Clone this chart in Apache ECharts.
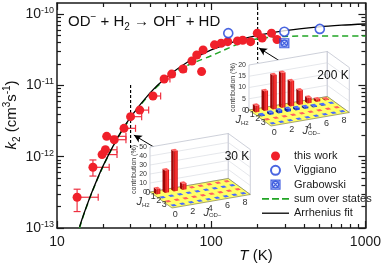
<!DOCTYPE html>
<html><head><meta charset="utf-8">
<script src="https://cdn.jsdelivr.net/npm/echarts@6/dist/echarts.min.js"></script>
<style>html,body{margin:0;padding:0;background:#fff}#c{width:384px;height:266px}</style>
</head><body><div id="c"></div><script>
const FONT = '"Liberation Sans", Arial, Helvetica, sans-serif';

// ---- main panel data (T in K, k2 in cm^3 s^-1) ----
const thisWorkT   = [13.5, 17.1, 19.6, 20.6, 21.0, 23.5, 27.2, 30.0, 34.4, 41.9, 49.5, 55.4, 65.6, 75, 80.6, 86.6, 88.6, 105, 116, 128, 148, 160, 180, 199, 214, 246, 267];
const thisWorkK   = [2.7e-13, 7.1e-13, 1.07e-12, 1.25e-12, 1.93e-12, 1.73e-12, 2.5e-12, 3.64e-12, 4.5e-12, 7.1e-12, 1.23e-11, 1.44e-11, 1.7e-11, 2.2e-11, 2.67e-11, 1.56e-11, 3.14e-11, 3.7e-11, 3.9e-11, 4.1e-11, 4.2e-11, 4.3e-11, 4.1e-11, 5.4e-11, 4.6e-11, 5.4e-11, 4.4e-11];
const thisWorkTHi = [18.5, 21.8, 24.5, 24.5, 28, 28, 32.3, 35.4, 39.3, 47, 54, 58, 69, null, null, null, null, null, null, null, null, null, null, null, null, null, null];
const thisWorkKLo = [1.7e-13, 5.35e-13, null, null, null, null, null, null, null, null, null, null, null, null, null, null, null, null, null, null, null, null, null, null, null, null, null];
const thisWorkKHi = [3.5e-13, 9.0e-13, null, null, null, null, null, null, null, null, null, null, null, null, null, null, null, null, null, null, null, null, null, null, null, null, null];

const viggianoT = [129, 298, 506];
const viggianoK = [5.4e-11, 5.66e-11, 6.2e-11];
const grabowskiT = [298];
const grabowskiK = [3.9e-11];

const sumT = [14, 15, 17, 20, 25, 30, 40, 50, 60, 70, 80, 100, 120, 150, 200, 300, 500, 700, 1000];
const sumK = [1.0e-13, 1.6e-13, 3.3e-13, 7.5e-13, 1.9e-12, 3.5e-12, 7.6e-12, 1.2e-11, 1.6e-11, 1.9e-11, 2.15e-11, 2.6e-11, 3.1e-11, 3.8e-11, 4.5e-11, 4.85e-11, 4.93e-11, 4.93e-11, 4.93e-11];

const fitT = [14, 15, 17, 20, 25, 30, 40, 50, 70, 100, 150, 200, 300, 500, 700, 1000];
const fitK = [1.04e-13, 1.62e-13, 3.35e-13, 7.62e-13, 1.93e-12, 3.59e-12, 7.79e-12, 1.24e-11, 2.11e-11, 3.14e-11, 4.29e-11, 5.01e-11, 5.85e-11, 6.62e-11, 6.98e-11, 7.26e-11];

const markerT = [30, 200];
const markerKTop = [1.01e-11, 1.26e-10];
const markerKBottom = [1.32e-12, 2.1e-11];
const arrowFromT = [43.6, 285], arrowFromK = [1.32e-12, 2.13e-11];
const arrowToT = [31.5, 204], arrowToK = [2.01e-12, 3.35e-11];

const xTickLabels = ['10', '100', '1000'];
const yTickExps = [-13, -12, -11, -10];

// ---- inset data: contribution (%) [J_H2][J_OD] ----
const jOD = [0, 1, 2, 3, 4, 5, 6, 7, 8];
const jH2 = [0, 1, 2, 3];
const contrib30K = [
  [5.8, 25, 44.7, 7, 0, 0, 0, 0, 0],
  [0, 0, 0, 0, 0, 0, 0, 0, 0],
  [0, 0, 0, 0, 0, 0, 0, 0, 0],
  [0, 0, 0, 0, 0, 0, 0, 0, 0]
];
const contrib200K = [
  [3, 8.8, 15.2, 15.6, 11.2, 6.4, 2.5, 1.1, 0.4],
  [0.5, 1, 1.3, 1.3, 1, 0.8, 0.5, 0.3, 0.2],
  [0, 0, 0, 0, 0, 0, 0, 0, 0],
  [0, 0, 0, 0, 0, 0, 0, 0, 0]
];
const rowColors = ['red', 'blue', 'red', 'blue'];
const z30Ticks = [0, 10, 20, 30, 40, 50];
const z200Ticks = [0, 5, 10, 15, 20];

// ---------------------------------------------------------------
const L10 = Math.log10;
const yMin = -13, yMax = L10(1.43e-10);
const xMinor = [], yMinor = [];
for (let n = 1; n <= 2; n++) for (let m = 2; m <= 9; m++) xMinor.push(L10(m * Math.pow(10, n)));
for (let n = -13; n <= -11; n++) for (let m = 2; m <= 9; m++) yMinor.push(L10(m * Math.pow(10, n)));

const pairs = (xs, ys) => xs.map((x, i) => [L10(x), L10(ys[i])]);
const errData = thisWorkT.map((t, i) => [L10(t), L10(thisWorkK[i]),
  thisWorkTHi[i] ? L10(thisWorkTHi[i]) : NaN,
  thisWorkKLo[i] ? L10(thisWorkKLo[i]) : NaN,
  thisWorkKHi[i] ? L10(thisWorkKHi[i]) : NaN]);

const RED = '#f0202a', BLUE = '#1c3fd8', AX = '#1a1a1a', GREEN = '#22a526';

const insets = [
  { L: [150, 192], ex: [8.7, -1.5], ey: [5.5, 4.0], zs: 0.9, zmax: 50, zticks: z30Ticks, values: contrib30K, label: '30 K', labelPos: [237, 157] },
  { L: [249, 110], ex: [8.7, -1.5], ey: [5.5, 4.0], zs: 2.25, zmax: 20, zticks: z200Ticks, values: contrib200K, label: '200 K', labelPos: [333, 76] }
];
const palette = {
  red:  { top: '#ff6060', left: '#9c0606', f0: '#c80c0c', f1: '#ff3a3a' },
  blue: { top: '#4a6cff', left: '#0c2090', f0: '#1530c0', f1: '#3050ff' }
};

function renderInset(params, api) {
  const cfg = insets[params.dataIndex];
  const P = (x, y, z) => api.coord([
    cfg.L[0] + (x + 0.5) * cfg.ex[0] + (y + 0.5) * cfg.ey[0],
    cfg.L[1] + (x + 0.5) * cfg.ex[1] + (y + 0.5) * cfg.ey[1] - z * cfg.zs]);
  const ch = [];
  const poly = (pts, fill, stroke, lw) => ch.push({ type: 'polygon', shape: { points: pts }, style: { fill: fill, stroke: stroke || null, lineWidth: lw || 0 } });
  const seg = (a, b, stroke, lw) => ch.push({ type: 'line', shape: { x1: a[0], y1: a[1], x2: b[0], y2: b[1] }, style: { stroke: stroke, lineWidth: lw } });
  const txt = (p, s, o) => ch.push(Object.assign({ type: 'text', x: p[0], y: p[1], style: Object.assign({ text: s, fontFamily: FONT, fontSize: 8, fill: '#333', align: 'center', verticalAlign: 'middle' }, o.style || {}) }, o.el || {}));
  const nx = jOD.length, ny = jH2.length, zm = cfg.zmax;
  const x0 = -0.5, x1 = nx - 0.5, y0 = -0.5, y1 = ny - 0.5;
  // walls
  poly([P(x0, y0, 0), P(x1, y0, 0), P(x1, y0, zm), P(x0, y0, zm)], '#ffffff', '#b8bcc8', 0.7);
  poly([P(x1, y0, 0), P(x1, y1, 0), P(x1, y1, zm), P(x1, y0, zm)], '#ffffff', '#b8bcc8', 0.7);
  cfg.zticks.forEach(z => { if (z > 0 && z < zm) { seg(P(x0, y0, z), P(x1, y0, z), '#d4d6de', 0.6); seg(P(x1, y0, z), P(x1, y1, z), '#d4d6de', 0.6); } });
  // floor
  poly([P(x0, y0, 0), P(x1, y0, 0), P(x1, y1, 0), P(x0, y1, 0)], '#ffff66', '#6b6b40', 0.6);
  // z tick labels
  cfg.zticks.forEach(z => { const p = P(x0, y0, z); txt([p[0] - 3, p[1]], String(z), { style: { align: 'right', fontSize: 7 } }); });
  const pc = P(x0, y0, zm / 2);
  txt([pc[0] - 16, pc[1]], 'contribution (%)', { style: { fontSize: 7 }, el: { rotation: Math.PI / 2 } });
  // axis tick labels
  jH2.forEach((j, k) => { const p = P(x0, k, 0); txt([p[0] - 5, p[1] - 1], String(j), { style: { fontSize: 9 } }); });
  jOD.forEach((j, k) => { if (j % 2 === 0) { const p = P(k, y1, 0); txt([p[0] - 1, p[1] + 7], String(j), { style: { fontSize: 9 } }); } });
  const ph = P(x0, 1.5, 0);
  const jr = { j: { fontSize: 11, fontStyle: 'italic', fill: '#333', fontFamily: FONT }, s: { fontSize: 6, fill: '#333', verticalAlign: 'bottom', fontFamily: FONT, padding: [6, 0, 0, 0] } };
  txt([ph[0] - 18, ph[1] + 2], '{j|J}{s|H2}', { style: { rich: jr } });
  const po = P(3, y1, 0);
  txt([po[0] + 10, po[1] + 10], '{j|J}{s|OD\u2212}', { style: { rich: jr } });
  // bars
  const cells = [];
  cfg.values.forEach((row, j) => row.forEach((v, i) => cells.push({ i: i, j: j, v: v, c: palette[rowColors[j]] })));
  cells.sort((a, b) => (a.i * cfg.ex[1] + a.j * cfg.ey[1]) - (b.i * cfg.ex[1] + b.j * cfg.ey[1]));
  const w = 0.23;
  cells.forEach(c => {
    const a0 = P(c.i - w, c.j - w, 0), c0 = P(c.i + w, c.j + w, 0), d0 = P(c.i - w, c.j + w, 0);
    const a1 = P(c.i - w, c.j - w, c.v), b1 = P(c.i + w, c.j - w, c.v), c1 = P(c.i + w, c.j + w, c.v), d1 = P(c.i - w, c.j + w, c.v);
    if (c.v > 0.2) {
      poly([a0, d0, d1, a1], c.c.left);
      poly([d0, c0, c1, d1], new echarts.graphic.LinearGradient(0, 0, 1, 0, [{ offset: 0, color: c.c.f0 }, { offset: 0.6, color: c.c.f1 }, { offset: 1, color: c.c.f0 }]));
    }
    poly([a1, b1, c1, d1], c.c.top);
  });
  txt(api.coord(cfg.labelPos), cfg.label, { style: { fontSize: 12, fill: '#111' } });
  return { type: 'group', children: ch };
}

function renderErr(params, api) {
  const x = api.value(0), y = api.value(1), xh = api.value(2), yl = api.value(3), yh = api.value(4);
  const p = api.coord([x, y]);
  const ch = [];
  const st = { stroke: '#ee3040', lineWidth: 1.2 };
  if (!isNaN(xh)) {
    const q = api.coord([xh, y]);
    ch.push({ type: 'line', shape: { x1: p[0], y1: p[1], x2: q[0], y2: q[1] }, style: st });
    ch.push({ type: 'line', shape: { x1: q[0], y1: q[1] - 3.5, x2: q[0], y2: q[1] + 3.5 }, style: st });
  }
  if (!isNaN(yl)) {
    const a = api.coord([x, yl]), b = api.coord([x, yh]);
    ch.push({ type: 'line', shape: { x1: a[0], y1: a[1], x2: b[0], y2: b[1] }, style: st });
    ch.push({ type: 'line', shape: { x1: a[0] - 3.5, y1: a[1], x2: a[0] + 3.5, y2: a[1] }, style: st });
    ch.push({ type: 'line', shape: { x1: b[0] - 3.5, y1: b[1], x2: b[0] + 3.5, y2: b[1] }, style: st });
  }
  return { type: 'group', children: ch };
}

const axLine = { show: true, onZero: false, lineStyle: { color: AX, width: 1.5 } };
const tickMaj = (len) => ({ show: true, inside: true, length: len, lineStyle: { color: AX, width: 1.2 } });
const xBase = { type: 'value', gridIndex: 0, min: 1, max: 3, interval: 1, splitLine: { show: false } };
const yBase = { type: 'value', gridIndex: 0, min: yMin, max: yMax, interval: 1, splitLine: { show: false } };

const GRAB_ICON = 'path://M0,0H10V10H0Z M1.5,1.5L8.5,8.5 M8.5,1.5L1.5,8.5 M8.5,5A3.5,3.5 0 1 1 1.5,5A3.5,3.5 0 1 1 8.5,5';
const LINE_ICON = 'path://M0,0H27V1.3H0Z';
const DASH_ICON = 'path://M0,0H7V1.6H0Z M10,0H17V1.6H10Z M20,0H27V1.6H20Z';

const chart = echarts.init(document.getElementById('c'), null, { renderer: 'canvas' });
chart.setOption({
  animation: false,
  backgroundColor: '#fff',
  grid: [
    { left: 57, right: 14, top: 3, bottom: 38 },
    { left: 0, right: 0, top: 0, bottom: 0 }
  ],
  xAxis: [
    Object.assign({}, xBase, { position: 'bottom', axisLine: axLine, axisTick: tickMaj(7),
      axisLabel: { fontSize: 14, color: AX, margin: 7, fontFamily: FONT, formatter: v => xTickLabels[Math.round(v) - 1] } }),
    Object.assign({}, xBase, { position: 'bottom', axisLine: { show: false }, axisTick: Object.assign(tickMaj(4), { customValues: xMinor }), axisLabel: { show: false } }),
    Object.assign({}, xBase, { position: 'top', axisLine: axLine, axisTick: tickMaj(7), axisLabel: { show: false } }),
    Object.assign({}, xBase, { position: 'top', axisLine: { show: false }, axisTick: Object.assign(tickMaj(4), { customValues: xMinor }), axisLabel: { show: false } }),
    { type: 'value', gridIndex: 1, min: 0, max: 384, show: false }
  ],
  yAxis: [
    Object.assign({}, yBase, { position: 'left', axisLine: axLine, axisTick: Object.assign(tickMaj(7), { customValues: yTickExps }),
      axisLabel: { customValues: yTickExps, margin: 3, color: AX, fontFamily: FONT,
        formatter: v => '{b|10}{s|' + v + '}',
        rich: { b: { fontSize: 14, lineHeight: 16, fontFamily: FONT, color: AX }, s: { fontSize: 9, lineHeight: 10, verticalAlign: 'top', fontFamily: FONT, color: AX } } } }),
    Object.assign({}, yBase, { position: 'left', axisLine: { show: false }, axisTick: Object.assign(tickMaj(4), { customValues: yMinor }), axisLabel: { show: false } }),
    Object.assign({}, yBase, { position: 'right', axisLine: axLine, axisTick: Object.assign(tickMaj(7), { customValues: yTickExps }), axisLabel: { show: false } }),
    Object.assign({}, yBase, { position: 'right', axisLine: { show: false }, axisTick: Object.assign(tickMaj(4), { customValues: yMinor }), axisLabel: { show: false } }),
    { type: 'value', gridIndex: 1, min: 0, max: 266, inverse: true, show: false }
  ],
  legend: {
    orient: 'vertical', left: 257, top: 144, itemWidth: 27, itemHeight: 9, itemGap: 0.3,
    textStyle: { fontSize: 11, lineHeight: 14, color: AX, fontFamily: FONT },
    data: [
      { name: 'this work', icon: 'circle' },
      { name: 'Viggiano' },
      { name: 'Grabowski', icon: GRAB_ICON, itemStyle: { color: 'rgba(120,150,240,0.45)', borderColor: BLUE, borderWidth: 1.2 } },
      { name: 'sum over states', icon: DASH_ICON, itemStyle: { color: GREEN, borderWidth: 0 } },
      { name: 'Arrhenius fit', icon: LINE_ICON, itemStyle: { color: '#000', borderWidth: 0 } }
    ]
  },
  graphic: [
    { type: 'text', left: 68, top: 12, style: { text: '{n|OD}{p|\u2212}{n| + H}{b|2}{n| \u2192 OH}{p|\u2212}{n| + HD}',
      rich: { n: { fontSize: 15, lineHeight: 20, fontFamily: FONT, fill: '#111' }, p: { fontSize: 10, lineHeight: 12, verticalAlign: 'top', fontFamily: FONT, fill: '#111' }, b: { fontSize: 10, lineHeight: 12, verticalAlign: 'bottom', fontFamily: FONT, fill: '#111' } } } },
    { type: 'text', x: 12, y: 115, rotation: Math.PI / 2, style: { text: '{i|k}{b|2}{n| (cm}{p|3}{n|s}{p|-1}{n|)}', align: 'center', verticalAlign: 'middle',
      rich: { i: { fontSize: 15, lineHeight: 20, fontStyle: 'italic', fontFamily: FONT, fill: '#111' }, n: { fontSize: 15, lineHeight: 20, fontFamily: FONT, fill: '#111' }, p: { fontSize: 10, lineHeight: 12, verticalAlign: 'top', fontFamily: FONT, fill: '#111' }, b: { fontSize: 10, lineHeight: 12, verticalAlign: 'bottom', fontFamily: FONT, fill: '#111' } } } },
    { type: 'text', x: 256, y: 256, style: { text: '{i|T}{n| (K)}', align: 'center', verticalAlign: 'middle',
      rich: { i: { fontSize: 15, fontStyle: 'italic', fontFamily: FONT, fill: '#111' }, n: { fontSize: 15, fontFamily: FONT, fill: '#111' } } } }
  ],
  series: [
    { type: 'custom', name: 'err', xAxisIndex: 0, yAxisIndex: 0, renderItem: renderErr, data: errData, z: 2, silent: true },
    { type: 'line', name: 'm30', xAxisIndex: 0, yAxisIndex: 0, symbol: 'none', silent: true, z: 2,
      lineStyle: { color: '#000', width: 1.2, type: [3, 2] }, data: [[L10(markerT[0]), L10(markerKTop[0])], [L10(markerT[0]), L10(markerKBottom[0])]] },
    { type: 'line', name: 'm200', xAxisIndex: 0, yAxisIndex: 0, symbol: 'none', silent: true, z: 2,
      lineStyle: { color: '#000', width: 1.2, type: [3, 2] }, data: [[L10(markerT[1]), L10(markerKTop[1])], [L10(markerT[1]), L10(markerKBottom[1])]] },
    { type: 'line', name: 'sum over states', xAxisIndex: 0, yAxisIndex: 0, symbol: 'none', smooth: 0.3, z: 3,
      lineStyle: { color: GREEN, width: 1.5, type: [6, 4] }, itemStyle: { color: GREEN }, data: pairs(sumT, sumK) },
    { type: 'line', name: 'Arrhenius fit', xAxisIndex: 0, yAxisIndex: 0, symbol: 'none', smooth: 0.3, z: 3,
      lineStyle: { color: '#000', width: 1.3 }, itemStyle: { color: '#000' }, data: pairs(fitT, fitK),
      markLine: { silent: true, symbol: ['none', 'arrow'], symbolSize: [6, 8], label: { show: false }, animation: false,
        lineStyle: { color: '#000', width: 1, type: 'solid' },
        data: arrowFromT.map((t, i) => [{ coord: [L10(t), L10(arrowFromK[i])] }, { coord: [L10(arrowToT[i]), L10(arrowToK[i])] }]) } },
    { type: 'scatter', name: 'this work', xAxisIndex: 0, yAxisIndex: 0, symbol: 'circle', symbolSize: 9, z: 4,
      itemStyle: { color: RED, opacity: 1 }, data: pairs(thisWorkT, thisWorkK) },
    { type: 'scatter', name: 'Viggiano', xAxisIndex: 0, yAxisIndex: 0, symbol: 'circle', symbolSize: 9, z: 4,
      itemStyle: { color: '#fff', borderColor: BLUE, borderWidth: 1.6 }, data: pairs(viggianoT, viggianoK) },
    { type: 'scatter', name: 'Grabowski', xAxisIndex: 0, yAxisIndex: 0, z: 4, symbolSize: 9, symbol: GRAB_ICON,
      itemStyle: { color: 'rgba(120,150,240,0.45)', borderColor: BLUE, borderWidth: 1.2 }, data: pairs(grabowskiT, grabowskiK) },
    { type: 'custom', name: 'insets', xAxisIndex: 4, yAxisIndex: 4, renderItem: renderInset, data: [[0, 0], [1, 1]], z: 10, silent: true, clip: false }
  ]
});
</script></body></html>
